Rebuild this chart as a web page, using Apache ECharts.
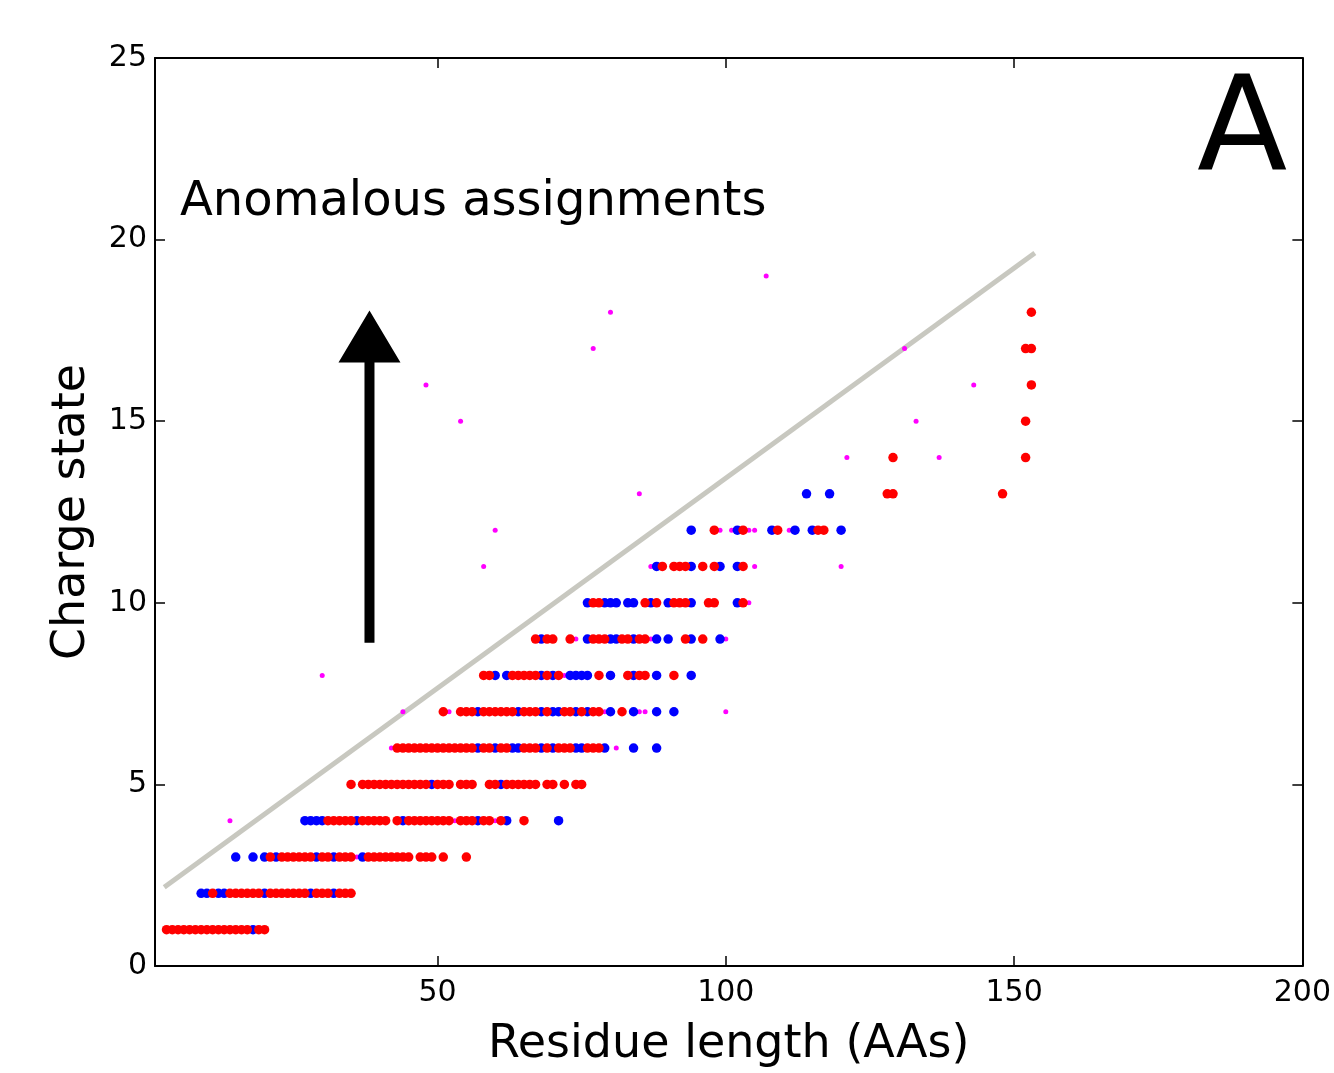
<!DOCTYPE html>
<html>
<head>
<meta charset="utf-8">
<script src="https://cdn.jsdelivr.net/npm/echarts@6/dist/echarts.min.js"></script>
<style>
  html, body { margin: 0; padding: 0; background: #fff; }
  #chart-container { width: 1334px; height: 1073px; }
</style>
</head>
<body>
<div id="chart-container"></div>
<script>
// charge states (one row of dots each)
const chargeStates = [1, 2, 3, 4, 5, 6, 7, 8, 9, 10, 11, 12, 13, 14, 15, 16, 17, 18, 19];

// residue lengths per charge state, same order as chargeStates
const redRows = [
  [3, 4, 5, 6, 7, 8, 9, 10, 11, 12, 13, 14, 15, 16, 17, 19, 20],
  [11, 14, 15, 16, 17, 18, 19, 21, 22, 23, 24, 25, 26, 27, 29, 30, 31, 33, 34, 35],
  [21, 23, 24, 25, 26, 27, 28, 30, 31, 33, 34, 35, 38, 39, 40, 41, 42, 43, 44, 45, 47, 48, 49, 51, 55],
  [31, 32, 33, 34, 35, 37, 38, 39, 40, 41, 43, 45, 46, 47, 48, 49, 50, 51, 52, 54, 55, 56, 58, 59, 61, 65],
  [35, 37, 38, 39, 40, 41, 42, 43, 44, 45, 46, 47, 48, 50, 51, 52, 54, 55, 56, 59, 60, 62, 63, 64, 65, 66, 67, 69, 70, 72, 74, 75],
  [43, 44, 45, 46, 47, 48, 49, 50, 51, 52, 53, 54, 55, 56, 58, 59, 61, 62, 65, 66, 67, 69, 71, 72, 73, 76, 77, 78],
  [51, 54, 55, 56, 58, 59, 60, 61, 62, 63, 65, 66, 67, 69, 72, 73, 75, 77, 78, 82],
  [58, 59, 63, 64, 65, 66, 67, 69, 71, 78, 83, 85, 86, 91],
  [67, 69, 70, 73, 77, 78, 79, 82, 83, 85, 86, 93, 96],
  [77, 78, 86, 88, 91, 92, 93, 97, 98, 103],
  [89, 91, 92, 93, 96, 98, 103],
  [98, 103, 109, 116, 117],
  [128, 129, 148],
  [129, 152],
  [152],
  [153],
  [152, 153],
  [153],
  []
];

const blueRows = [
  [18],
  [9, 10, 12, 13, 20, 28, 32],
  [15, 18, 20, 22, 29, 32, 37],
  [27, 28, 29, 30, 36, 44, 57, 62, 71],
  [49, 61],
  [57, 60, 63, 64, 68, 70, 74, 75, 79, 84, 88],
  [57, 64, 68, 70, 71, 74, 76, 80, 84, 88, 91],
  [60, 62, 68, 70, 73, 74, 75, 76, 80, 84, 88, 94],
  [68, 76, 80, 81, 84, 88, 90, 94, 99],
  [76, 79, 80, 81, 83, 84, 87, 90, 94, 102],
  [88, 94, 99, 102],
  [94, 102, 108, 112, 115, 120],
  [114, 118],
  [], [], [], [], [], []
];

const magentaRows = [
  [],
  [],
  [36],
  [14, 53, 60],
  [],
  [42, 81],
  [44, 52, 79, 85, 86, 100],
  [30, 72],
  [74, 87, 100],
  [104],
  [58, 87, 105, 120],
  [60, 99, 101, 104, 105, 111],
  [85],
  [121, 137],
  [54, 133],
  [48, 143],
  [77, 131],
  [80],
  [107]
];

// grey guide line ends
const guideX = [2.6, 153.6];
const guideY = [2.17, 19.63];

// arrow (residue length, from charge, to charge)
const arrowX = [38.2];
const arrowFrom = [8.9];
const arrowTo = [18.05];

const xTicks = [50, 100, 150, 200];

function toPoints(rows) {
  const pts = [];
  rows.forEach(function (row, i) {
    row.forEach(function (x) { pts.push([x, chargeStates[i]]); });
  });
  return pts;
}

const chartDom = document.getElementById('chart-container');
const myChart = echarts.init(chartDom, null, { renderer: 'canvas' });

const font = 'DejaVu Sans';
const frameLine = { show: true, onZero: false, lineStyle: { color: '#000', width: 2 } };

const option = {
  backgroundColor: '#fff',
  animation: false,
  textStyle: { fontFamily: font },
  grid: { left: 155, right: 24, top: 58, bottom: 107 },
  xAxis: [
    {
      type: 'value',
      min: 1,
      max: 200,
      position: 'bottom',
      name: 'Residue length (AAs)',
      nameLocation: 'middle',
      nameGap: 56,
      nameTextStyle: { fontSize: 46, color: '#000', fontFamily: font },
      axisLine: frameLine,
      axisTick: { show: true, inside: true, length: 10, customValues: xTicks, lineStyle: { color: '#000', width: 1.5 } },
      axisLabel: { show: true, customValues: xTicks, fontSize: 30, color: '#000', margin: 12, fontFamily: font },
      splitLine: { show: false }
    },
    {
      type: 'value',
      min: 1,
      max: 200,
      position: 'top',
      axisLine: frameLine,
      axisTick: { show: true, inside: true, length: 10, customValues: xTicks, lineStyle: { color: '#000', width: 1.5 } },
      axisLabel: { show: false },
      splitLine: { show: false }
    }
  ],
  yAxis: [
    {
      type: 'value',
      min: 0,
      max: 25,
      interval: 5,
      position: 'left',
      name: 'Charge state',
      nameLocation: 'middle',
      nameGap: 60,
      nameRotate: 90,
      nameTextStyle: { fontSize: 46, color: '#000', fontFamily: font },
      axisLine: frameLine,
      axisTick: { show: true, inside: true, length: 10, lineStyle: { color: '#000', width: 1.5 } },
      axisLabel: { fontSize: 30, color: '#000', margin: 8, fontFamily: font },
      splitLine: { show: false }
    },
    {
      type: 'value',
      min: 0,
      max: 25,
      interval: 5,
      position: 'right',
      axisLine: frameLine,
      axisTick: { show: true, inside: true, length: 10, lineStyle: { color: '#000', width: 1.5 } },
      axisLabel: { show: false },
      splitLine: { show: false }
    }
  ],
  graphic: {
    elements: [
      {
        type: 'text',
        left: 180,
        top: 179,
        style: { text: 'Anomalous assignments', fontSize: 48, fill: '#000', fontFamily: font }
      },
      {
        type: 'text',
        left: 1197,
        top: 70,
        style: { text: 'A', fontSize: 132, fill: '#000', fontFamily: font }
      }
    ]
  },
  series: [
    {
      type: 'line',
      data: [[guideX[0], guideY[0]], [guideX[1], guideY[1]]],
      showSymbol: false,
      symbol: 'none',
      lineStyle: { color: '#c8c8c0', width: 5 },
      z: 1
    },
    {
      type: 'scatter',
      data: toPoints(magentaRows),
      symbolSize: 5,
      itemStyle: { color: '#ff00ff', opacity: 1 },
      z: 2
    },
    {
      type: 'scatter',
      data: toPoints(blueRows),
      symbolSize: 9.5,
      itemStyle: { color: '#0000ff', opacity: 1 },
      z: 3
    },
    {
      type: 'scatter',
      data: toPoints(redRows),
      symbolSize: 9.5,
      itemStyle: { color: '#ff0000', opacity: 1 },
      z: 4
    },
    {
      type: 'custom',
      data: [[arrowX[0], arrowFrom[0], arrowTo[0]]],
      renderItem: function (params, api) {
        const base = api.coord([api.value(0), api.value(1)]);
        const tip = api.coord([api.value(0), api.value(2)]);
        const headLen = 52, headHalf = 31, shaftHalf = 5;
        const cx = base[0];
        const neck = tip[1] + headLen;
        return {
          type: 'polygon',
          shape: {
            points: [
              [cx - shaftHalf, base[1]],
              [cx - shaftHalf, neck],
              [cx - headHalf, neck],
              [cx, tip[1]],
              [cx + headHalf, neck],
              [cx + shaftHalf, neck],
              [cx + shaftHalf, base[1]]
            ]
          },
          style: { fill: '#000' }
        };
      },
      z: 5
    }
  ]
};

myChart.setOption(option);
</script>
</body>
</html>
